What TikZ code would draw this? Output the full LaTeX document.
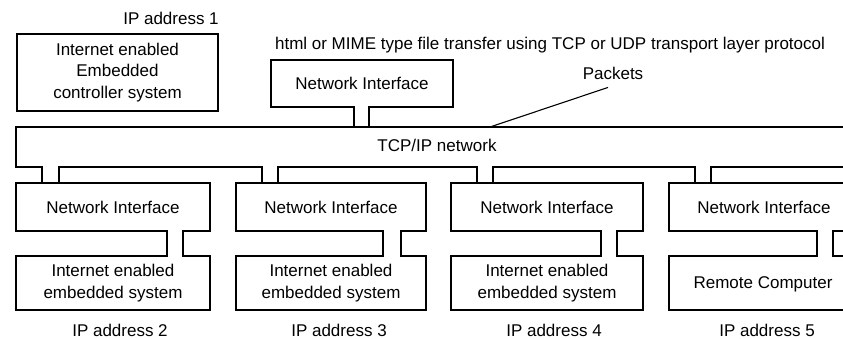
\documentclass[tikz,border=0pt]{standalone}
\usepackage{fontspec}
\setmainfont{Liberation Sans}
\usetikzlibrary{calc}
\tikzset{
  wire/.style={line width=1.1pt, line cap=rect},
  box/.style={draw, line width=1.1pt, inner sep=0pt, align=center,
    font=\fontsize{17}{21.5}\selectfont},
  openbox/.style={inner sep=0pt, outer sep=0pt},
  lbl/.style={inner sep=0pt, align=center, font=\fontsize{17}{21.5}\selectfont}
}
\newcommand\opengap[3]{%
  \coordinate (gl) at (#2,0);
  \coordinate (gr) at (#3,0);
  \fill[white] ($(#1 -| gl)+(0.7,-1.6)$) rectangle ($(#1 -| gr)+(-0.7,1.6)$);}
\newcommand\neckjoin[4]{%
  \coordinate (nl) at (#3,0);
  \coordinate (nr) at (#4,0);
  \draw[wire] (#1.south -| nl) -- (#2.north -| nl);
  \draw[wire] (#1.south -| nr) -- (#2.north -| nr);}
\newcommand\openright[1]{%
  \draw[line width=1.1pt, line join=miter] (#1.north east) -- (#1.north west) -- (#1.south west) -- (#1.south east);}
\begin{document}
\begin{tikzpicture}[x=1pt,y=-1pt]
\useasboundingbox (0,0) rectangle (843,338);
% labels
\node[lbl] (ip1) at (171,18) {IP address 1};
\node[lbl] (title) at (550,45) {html or MIME type file transfer using TCP or UDP transport layer protocol};
\node[lbl] (packets) at (613,73) {Packets};
% boxes
\node[box, minimum width=201pt, minimum height=77pt] (ctrl) at (117.5,72.5) {Internet enabled\\Embedded\\controller system};
\node[box, minimum width=182pt, minimum height=47pt] (ntop) at (362,83.5) {Network Interface};
\node[openbox, minimum width=827pt, minimum height=40pt] (bus) at (429.5,147) {};
\openright{bus}
\node[lbl] (bustext) at (437,145) {TCP/IP network};
\node[box, minimum width=194pt, minimum height=48pt] (ni2) at (113,207) {Network Interface};
\node[box, minimum width=190pt, minimum height=48pt] (ni3) at (331,207) {Network Interface};
\node[box, minimum width=192pt, minimum height=48pt] (ni4) at (547,207) {Network Interface};
\node[openbox, minimum width=174pt, minimum height=48pt] (ni5) at (756,207) {};
\openright{ni5}
\node[lbl] (ni5text) at (764,207) {Network Interface};
\node[box, minimum width=194pt, minimum height=54pt] (e2) at (113,283) {Internet enabled\\embedded system};
\node[box, minimum width=190pt, minimum height=54pt] (e3) at (331,283) {Internet enabled\\embedded system};
\node[box, minimum width=192pt, minimum height=54pt] (e4) at (547,283) {Internet enabled\\embedded system};
\node[openbox, minimum width=174pt, minimum height=54pt] (rc) at (756,283) {};
\openright{rc}
\node[lbl] (rctext) at (763,284) {Remote Computer};
% open the necks
\opengap{ntop.south}{354}{369}
\opengap{bus.south}{42}{59}
\opengap{bus.south}{262}{278}
\opengap{bus.south}{477}{493}
\opengap{bus.south}{695}{711}
\opengap{ni2.south}{167}{183}
\opengap{e2.north}{167}{183}
\opengap{ni3.south}{383}{401}
\opengap{e3.north}{383}{401}
\opengap{ni4.south}{601}{617}
\opengap{e4.north}{601}{617}
\opengap{ni5.south}{817}{833}
\opengap{rc.north}{817}{833}
% neck walls
\neckjoin{ntop}{bus}{354}{369}
\neckjoin{bus}{ni2}{42}{59}
\neckjoin{bus}{ni3}{262}{278}
\neckjoin{bus}{ni4}{477}{493}
\neckjoin{bus}{ni5}{695}{711}
\neckjoin{ni2}{e2}{167}{183}
\neckjoin{ni3}{e3}{383}{401}
\neckjoin{ni4}{e4}{601}{617}
\neckjoin{ni5}{rc}{817}{833}
% packets pointer
\coordinate (pkx) at (490,0);
\draw[line width=1.1pt] ($(packets.south)+(-5,8)$) -- (bus.north -| pkx);
% address labels
\node[lbl] (ip2) at (120,330) {IP address 2};
\node[lbl] (ip3) at (339,330) {IP address 3};
\node[lbl] (ip4) at (554,330) {IP address 4};
\node[lbl] (ip5) at (767,330) {IP address 5};
\end{tikzpicture}
\end{document}
